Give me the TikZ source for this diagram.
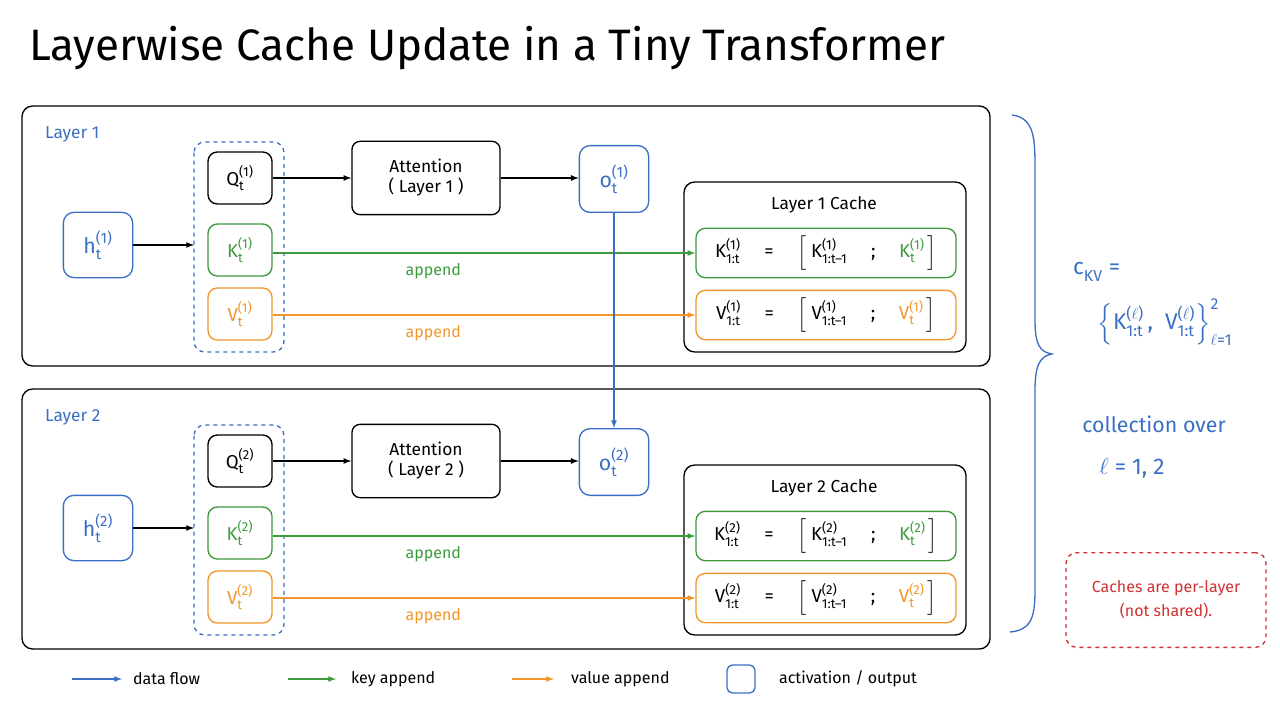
\documentclass[tikz,border=0pt]{standalone}
\usepackage{fontspec}
\setmainfont{Fira Sans}
\usepackage{amsmath}
\definecolor{lblue}{HTML}{3A6FC4}
\definecolor{lgreen}{HTML}{3D9A3D}
\definecolor{lorange}{HTML}{F0962A}
\definecolor{lred}{HTML}{D03030}
\newcommand\vv[3]{\ensuremath{\text{#1}^{\text{#2}}_{\text{#3}}}}
\begin{document}
\begin{tikzpicture}[x=0.75pt,y=-0.75pt,font=\fontsize{13}{15}\selectfont,line width=1pt,>=latex]
	\tikzstyle{box}=[draw=black,rounded corners=6pt,align=center]
	\tikzstyle{act}=[draw=lblue,rounded corners=8pt,text=lblue,minimum width=52pt,minimum height=49pt,font=\fontsize{16}{18}\selectfont]
	\tikzstyle{qkv}=[rounded corners=7pt,minimum width=48pt,minimum height=39pt,font=\fontsize{14}{16}\selectfont]
	\tikzstyle{row}=[rounded corners=7pt,minimum width=195pt,minimum height=37pt,font=\fontsize{14}{16}\selectfont]
	\tikzstyle{lbl}=[font=\fontsize{12}{14}\selectfont]
	\useasboundingbox (0,0) rectangle (1280,720);
	\node[anchor=west,font=\fontsize{33}{38}\selectfont](title) at (24,48) {Layerwise Cache Update in a Tiny Transformer};
	\foreach \l/\y in {1/0,2/283}{
		\draw[rounded corners=8pt] (22,106+\y) rectangle (990,366+\y);
		\node[anchor=west,text=lblue](lay\l) at (40,134+\y) {Layer \l};
		\draw[lblue,dashed,rounded corners=8pt] (194,142+\y) rectangle (284,352+\y);
		\node[act](h\l) at (98,245+\y) {\vv{h}{(\l)}{t}};
		\node[qkv,draw=black](q\l) at (240,178+\y) {\vv{Q}{(\l)}{t}};
		\node[qkv,draw=lgreen,text=lgreen](k\l) at (240,250+\y) {\vv{K}{(\l)}{t}};
		\node[qkv,draw=lorange,text=lorange](v\l) at (240,314+\y) {\vv{V}{(\l)}{t}};
		\node[box,minimum width=111pt,minimum height=55pt](att\l) at (426,178+\y) {Attention\\( Layer \l\ )};
		\node[act,minimum height=50pt](o\l) at (614,179+\y) {\vv{o}{(\l)}{t}};
		\draw[rounded corners=8pt] (684,182+\y) rectangle (966,352+\y);
		\node(ct\l) at (824,205+\y) {Layer \l\ Cache};
		\node[row,draw=lgreen](kr\l) at (826,253+\y) {\vv{K}{(\l)}{1:t} \quad = \quad \Big[\ \vv{K}{(\l)}{1:t--1} \quad ; \quad {\color{lgreen}\vv{K}{(\l)}{t}}\,\Big]};
		\node[row,draw=lorange](vr\l) at (826,315+\y) {\vv{V}{(\l)}{1:t} \quad = \quad \Big[\ \vv{V}{(\l)}{1:t--1} \quad ; \quad {\color{lorange}\vv{V}{(\l)}{t}}\,\Big]};
		\coordinate(g\l) at (194,245+\y);
		\draw[->](h\l) -- (h\l -| g\l);
		\draw[->](q\l) -- (q\l -| att\l.west);
		\draw[->](att\l) -- (att\l -| o\l.west);
		\draw[->,lgreen](k\l.east |- kr\l) -- node[lbl,below=4pt,pos=0.38]{append}(kr\l);
		\draw[->,lorange](v\l.east |- vr\l) -- node[lbl,below=4pt,pos=0.38]{append}(vr\l);
	}
	\draw[->,lblue](o1) -- (o2);
	% brace
	\draw[lblue] (1012,115) .. controls (1035,118) and (1035,140) .. (1035,170) -- (1035,320) .. controls (1035,345) and (1040,352) .. (1052,354)
		.. controls (1040,356) and (1035,365) .. (1035,390) -- (1035,590) .. controls (1035,620) and (1030,630) .. (1010,632);
	\node[text=lblue,font=\fontsize{17}{20}\selectfont,anchor=west](ckv) at (1068,272) {\vv{c}{}{KV} =};
	\node[text=lblue,font=\fontsize{17}{20}\selectfont](set) at (1165,322) {$\Big\{$\vv{K}{($\ell$)}{1:t}\,,\ \ \vv{V}{($\ell$)}{1:t}$\Big\}^{\text{2}}_{\ell\text{=1}}$};
	\node[text=lblue,font=\fontsize{16}{18}\selectfont](coll) at (1154,424) {collection over};
	\node[text=lblue,font=\fontsize{17}{20}\selectfont](lv) at (1132,468) {$\ell$ = 1, 2};
	\node[draw=lred,dashed,rounded corners=8pt,text=lred,align=center,minimum width=150pt,minimum height=71pt,lbl](note) at (1166,600) {Caches are per-layer\\[4pt](not shared).};
	% legend
	\coordinate(l1a) at (72,679); \coordinate(l1b) at (122,679);
	\coordinate(l2a) at (288,679); \coordinate(l2b) at (336,679);
	\coordinate(l3a) at (512,679); \coordinate(l3b) at (554,679);
	\draw[->,lblue](l1a) -- (l1b);
	\draw[->,lgreen](l2a) -- (l2b);
	\draw[->,lorange](l3a) -- (l3b);
	\node[lbl,anchor=west](t1) at (128,679) {data flow};
	\node[lbl,anchor=west](t2) at (346,679) {key append};
	\node[lbl,anchor=west](t3) at (566,679) {value append};
	\node[draw=lblue,rounded corners=4pt,minimum size=21pt](sq) at (741,679) {};
	\node[lbl,anchor=west](t4) at (774,679) {activation / output};
\end{tikzpicture}
\end{document}
